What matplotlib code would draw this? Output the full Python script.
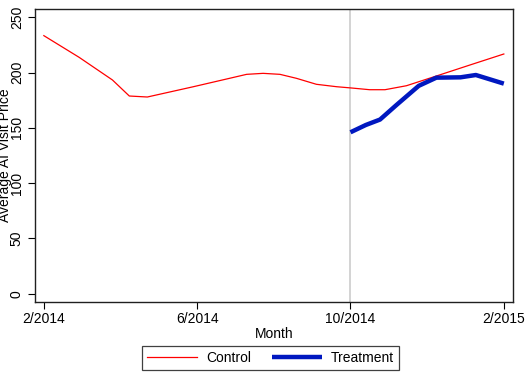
import matplotlib
matplotlib.use("Agg")
import matplotlib.pyplot as plt

plt.rcParams['font.family'] = ['Liberation Sans', 'DejaVu Sans']
plt.rcParams['font.size'] = 10

# months since 2/2014 (fractional = position inside the month)
control_x = [0, 0.92, 1.79, 2.23, 2.7, 3.9, 4.77, 5.29, 5.72, 6.16, 6.59,
             7.11, 7.64, 8.01, 8.5, 8.9, 9.46, 10.24, 11.2, 12.0]
control_y = [233.4, 213.8, 193.3, 178.8, 177.9, 187.2, 194.2, 198.4, 199.3,
             198.4, 194.8, 189.4, 187.2, 186.1, 184.5, 184.5, 188.1, 196.9,
             207.8, 216.8]

treat_x = [8.0, 8.4, 8.77, 9.2, 9.78, 10.24, 10.87, 11.27, 12.0]
treat_y = [146.0, 152.6, 157.5, 170.7, 188.0, 195.4, 195.7, 197.8, 190.0]

tick_pos = [0, 4, 8, 12]
tick_labels = ['2/2014', '6/2014', '10/2014', '2/2015']
y_ticks = [0, 50, 100, 150, 200, 250]
start_month = 8  # 10/2014

fig = plt.figure(figsize=(5.29, 3.75), dpi=100)
ax = fig.add_axes([0.0662, 0.1947, 0.9036, 0.7813])

ax.axvline(start_month, color='#c8c8c8', lw=1.1, zorder=1)
ax.plot(control_x, control_y, color='#ff0000', lw=0.9, label='Control', zorder=2)
ax.plot(treat_x, treat_y, color='#0018c0', lw=3.2, label='Treatment', zorder=3,
        solid_capstyle='butt')

ax.set_xlim(-0.23, 12.24)
ax.set_ylim(-7.5, 257.5)
ax.set_xticks(tick_pos)
ax.set_xticklabels(tick_labels)
ax.set_yticks(y_ticks)
ax.set_yticklabels([str(v) for v in y_ticks], rotation=90, va='center')
ax.tick_params(direction='out', length=5, width=0.8, colors='black', pad=2)
ax.tick_params(axis='y', pad=3)

for s in ax.spines.values():
    s.set_linewidth(1.0)
    s.set_color('#202020')

ax.set_xlabel('Month', labelpad=1)
fig.text(0.0095, 0.585, 'Average AI Visit Price', rotation=90, ha='center', va='center')

leg = fig.legend(loc='center', bbox_to_anchor=(0.511, 0.046), ncol=2,
                 fancybox=False, edgecolor='#404040', framealpha=1,
                 handlelength=3.6, columnspacing=1.5, borderpad=0.35,
                 handletextpad=0.65)
leg.get_frame().set_linewidth(0.9)

fig.savefig('out.png', dpi=100)
